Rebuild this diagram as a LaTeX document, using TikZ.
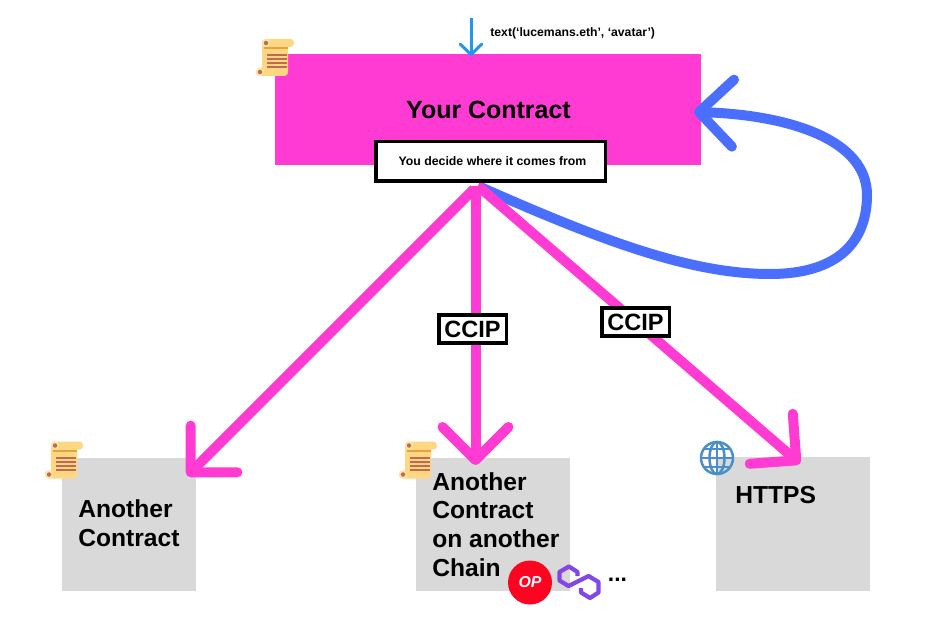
\documentclass[tikz,border=0pt]{standalone}
\usepackage{fontspec}
\setmainfont{Liberation Sans}
\usepackage{tikz}
\usetikzlibrary{arrows.meta}
\definecolor{contractpink}{HTML}{FF3BD4}
\definecolor{loopblue}{HTML}{4A6FFF}
\definecolor{callblue}{HTML}{2196F3}
\definecolor{boxgray}{HTML}{D9D9D9}
\definecolor{scrollbody}{HTML}{FFD782}
\definecolor{scrollhalo}{HTML}{FFE6AE}
\definecolor{scrollband}{HTML}{E5A33B}
\definecolor{scrollink}{HTML}{BF6B52}
\definecolor{globeblue}{HTML}{4A8FC7}
\definecolor{opred}{HTML}{FF0420}
\definecolor{polypurple}{HTML}{8247E5}
\begin{document}
\begin{tikzpicture}[
		graybox/.style={fill=boxgray, minimum height=2.66cm, inner sep=0pt},
		boldlabel/.style={font=\fontsize{14}{16.4}\selectfont\bfseries, align=left, inner sep=0pt},
		tagbox/.style={draw=black, fill=white, line width=0.7mm, minimum width=1.35cm, minimum height=0.56cm, inner sep=0pt, font=\fontsize{13.4}{15}\selectfont\bfseries},
		pinkarrow/.style={draw=contractpink, line width=2mm, shorten >=-0.8mm, -{Straight Barb[length=6.6mm, width=13.2mm, line width=2mm, round]}},
		scrollicon/.pic={
			\fill[scrollbody, rounded corners=0.07cm] (-0.26,0.21) rectangle (0.38,0.37);
			\fill[scrollbody, rounded corners=0.07cm] (-0.26,-0.37) rectangle (0.26,0.31);
			\fill[scrollbody, rounded corners=0.07cm] (-0.38,-0.37) rectangle (-0.10,-0.21);
			\fill[scrollhalo] (-0.18,0.29) circle (0.08);
			\fill[scrollhalo] (-0.30,-0.29) circle (0.08);
			\fill[scrollink] (-0.18,0.29) circle (0.045);
			\fill[scrollink] (-0.30,-0.29) circle (0.045);
			\fill[scrollband] (-0.22,0.17) rectangle (0.26,0.21);
			\foreach \liney in {0.05,-0.03,-0.11,-0.19}
				\fill[scrollink] (-0.16,\liney-0.02) rectangle (0.24,\liney+0.02);
		}
	]
	\useasboundingbox (0,0) rectangle (18.82,12.84);

	% your contract
	\node[fill=contractpink, minimum width=8.52cm, minimum height=2.22cm, inner sep=0pt] (mycontract) at (9.76,10.65) {};
	\node[font=\fontsize{14.2}{16}\selectfont\bfseries, inner sep=0pt] (mytitle) at (9.77,10.64) {Your Contract};
	\pic at (5.5,11.69) {scrollicon};

	\coordinate (calltop) at (9.42,12.48);
	\draw[callblue, line width=0.6mm, shorten >=-0.5mm, -{Straight Barb[length=2.1mm, width=4.3mm, line width=0.6mm, round]}] (calltop) -- (calltop |- mycontract.north);
	\node[anchor=west, font=\fontsize{6.95}{8}\selectfont\bfseries, inner sep=0pt] (calltext) at (9.8,12.18) {text(‘lucemans.eth’, ‘avatar’)};

	% the three targets
	\node[graybox, minimum width=2.68cm] (anotherbox) at (2.58,2.35) {};
	\node[graybox, minimum width=3.08cm] (chainbox) at (9.86,2.35) {};
	\node[graybox, minimum width=3.08cm, minimum height=2.68cm] (httpsbox) at (15.86,2.36) {};

	\node[boldlabel, anchor=west] (anothertext) at (1.56,2.37) {Another\\Contract};
	\node[boldlabel, anchor=west] (chaintext) at (8.64,2.35) {Another\\Contract\\on another\\Chain};
	\node[boldlabel, anchor=west] (httpstext) at (14.7,2.94) {HTTPS};

	\pic at (1.28,3.64) {scrollicon};
	\pic at (8.36,3.64) {scrollicon};

	% globe
	\draw[globeblue, line width=0.5mm] (14.34,3.68) circle (0.32);
	\draw[globeblue, line width=0.5mm] (14.34,3.68) ellipse (0.15 and 0.32);
	\draw[globeblue, line width=0.5mm] (14.34,3.36) -- (14.34,4);
	\draw[globeblue, line width=0.5mm] (14.02,3.68) -- (14.66,3.68);
	\draw[globeblue, line width=0.5mm] (14.08,3.86) -- (14.6,3.86);
	\draw[globeblue, line width=0.5mm] (14.08,3.5) -- (14.6,3.5);

	% chains
	\node[circle, fill=opred, minimum size=0.88cm, inner sep=0pt, text=white, font=\fontsize{9}{10}\selectfont\bfseries\itshape] (opbadge) at (10.6,1.19) {OP};
	\draw[polypurple, line width=0.85mm, line join=round] (11.55,1.32) -- (11.55,1.40) -- (11.38,1.51) -- (11.19,1.40) -- (11.19,1.23) -- (11.37,1.12) -- (11.77,1.32) -- (11.97,1.20) -- (11.97,0.99) -- (11.80,0.88) -- (11.62,0.99) -- (11.62,1.08);
	\node[anchor=base, font=\fontsize{13}{16}\selectfont\bfseries, inner sep=0pt] (moredots) at (12.35,1.21) {...};

	% connectors
	\coordinate (forkright) at (9.56,9.12);
	\coordinate (forkmid) at (9.51,9.12);
	\coordinate (forkleft) at (9.48,9.06);
	\coordinate (tipanother) at (3.8,3.38);
	\coordinate (tipchain) at (9.51,3.62);
	\coordinate (tiphttps) at (15.94,3.62);
	\coordinate (tiploop) at (13.94,10.6);

	\draw[loopblue, line width=2mm, shorten >=-0.6mm, -{Straight Barb[length=6.8mm, width=13.4mm, line width=2mm, round]}] (forkright) .. controls (12,8.04) and (13.8,7.36) .. (15.4,7.36) .. controls (16.8,7.36) and (17.34,8.04) .. (17.34,8.94) .. controls (17.34,10.04) and (15.8,10.54) .. (tiploop);

	\draw[pinkarrow] (forkleft) -- (tipanother);
	\draw[pinkarrow] (forkmid) -- (tipchain);
	\draw[pinkarrow] (forkright) -- (tiphttps);

	% boxes on top
	\node[draw=black, fill=white, line width=0.7mm, minimum width=4.59cm, minimum height=0.79cm, inner sep=0pt] (sourcebox) at (9.81,9.61) {};
	\node[font=\fontsize{7}{8}\selectfont\bfseries, inner sep=0pt] (sourcetext) at (9.85,9.62) {You decide where it comes from};
	\node[tagbox] (ccipmid) at (9.45,6.26) {CCIP};
	\node[tagbox] (cciphttps) at (12.71,6.4) {CCIP};
\end{tikzpicture}
\end{document}
